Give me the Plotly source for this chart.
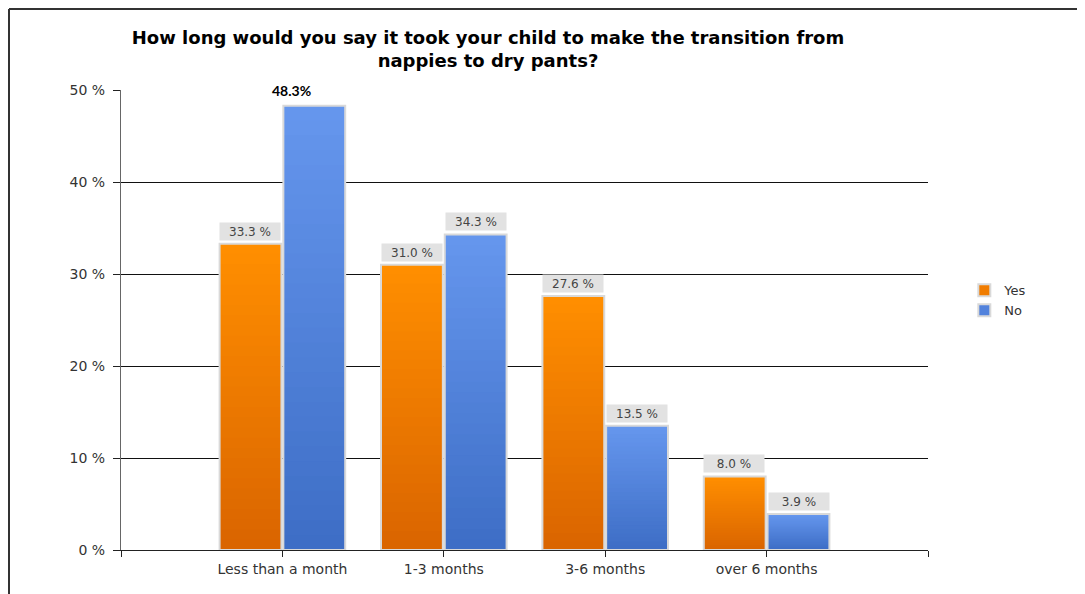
import plotly.graph_objects as go

categories = ["Less than a month", "1-3 months", "3-6 months", "over 6 months"]
yes_values = [33.3, 31.0, 27.6, 8.0]
no_values = [48.3, 34.3, 13.5, 3.9]
series_names = ["Yes", "No"]
y_ticks = [0, 10, 20, 30, 40, 50]
y_tick_labels = ["0 %", "10 %", "20 %", "30 %", "40 %", "50 %"]
title_text = "How long would you say it took your child to make the transition from<br>nappies to dry pants?"
highlight = ("No", 0)  # label drawn bold without a box

# styles
top_colors = {"Yes": (255, 142, 0), "No": (101, 150, 237)}
bot_colors = {"Yes": (218, 101, 0), "No": (62, 110, 198)}
mid_colors = {"Yes": "#F07C00", "No": "#5282DC"}
border_col = "#D9D9D9"
N_SEG = 30
BAR_OFFSET = 0.2  # category units, centre of each bar relative to the category

W, H = 1077, 586
L, R, T, B = 113, 157, 82, 44
PW, PH = W - L - R, H - T - B

xpos = list(range(len(categories)))
fig = go.Figure()

def mix(c1, c2, t):
    return "rgb(%d,%d,%d)" % tuple(round(a + (b - a) * t) for a, b in zip(c1, c2))

for name, vals in zip(series_names, [yes_values, no_values]):
    for k in range(N_SEG):
        t = k / (N_SEG - 1)
        bases = [v * k / N_SEG for v in vals]
        heights = [min(v * 2.0 / N_SEG, v - b) for v, b in zip(vals, bases)]
        fig.add_trace(go.Bar(
            x=xpos, y=heights, base=bases,
            offsetgroup=name, marker=dict(color=mix(bot_colors[name], top_colors[name], t), line=dict(width=0)),
            showlegend=False, hoverinfo="skip"))
    fig.add_trace(go.Bar(
        x=xpos, y=vals, offsetgroup=name, name=name,
        marker=dict(color="rgba(0,0,0,0)", line=dict(color=border_col, width=2)),
        showlegend=False))
    fig.add_trace(go.Bar(
        x=xpos, y=[None] * len(vals), offsetgroup=name, name=name,
        marker=dict(color=mid_colors[name], line=dict(color=border_col, width=2)),
        showlegend=True))

annotations = []
for si, (name, vals) in enumerate(zip(series_names, [yes_values, no_values])):
    off = -BAR_OFFSET if si == 0 else BAR_OFFSET
    for i, v in enumerate(vals):
        if (name, i) == highlight:
            annotations.append(dict(
                x=i + off, y=v, xref="x", yref="y", text="<b>%.1f%%</b>" % v, showarrow=False,
                yanchor="middle", yshift=15, xshift=-23,
                font=dict(family="Lato", size=14, color="#000")))
        else:
            annotations.append(dict(
                x=i + off, y=v, xref="x", yref="y", text="%.1f %%" % v, showarrow=False,
                yanchor="bottom", yshift=3, width=58, height=15, bgcolor="#E2E2E2",
                font=dict(family="DejaVu Sans", size=12, color="#444")))

fx = (1 - L) / PW
fy = 1 + (T - 1) / PH
fig.update_layout(
    width=W, height=H,
    margin=dict(l=L, r=R, t=T, b=B),
    paper_bgcolor="white", plot_bgcolor="white",
    barmode="group", bargap=0.21, bargroupgap=0.03,
    title=dict(text="<b>" + title_text + "</b>", x=480 / W, xanchor="center",
               y=1 - 36 / H, yanchor="top", yref="container",
               font=dict(family="DejaVu Sans", size=18, color="#000")),
    legend=dict(x=1.045, y=0.597, xanchor="left", yanchor="top", bgcolor="rgba(0,0,0,0)",
                font=dict(family="DejaVu Sans", size=13, color="#333"),
                tracegroupgap=0),
    annotations=annotations,
    showlegend=True,
    font=dict(family="DejaVu Sans", size=13, color="#333"),
    shapes=[
        dict(type="line", xref="paper", yref="paper", x0=fx, x1=1.3,
             y0=fy, y1=fy, line=dict(color="#333", width=2)),
        dict(type="line", xref="paper", yref="paper", x0=fx, x1=fx,
             y0=-0.2, y1=fy, line=dict(color="#333", width=2)),
    ],
)
fig.update_xaxes(
    range=[-1, len(categories)], tickvals=[-1] + xpos + [len(categories)],
    ticktext=[""] + categories + [""], ticks="outside", ticklen=6, tickcolor="#222",
    showline=True, linecolor="#222", linewidth=1, showgrid=False, zeroline=False,
    tickfont=dict(family="DejaVu Sans", size=14, color="#333"))
fig.update_yaxes(
    range=[0, 50], tickvals=y_ticks, ticktext=y_tick_labels, ticks="outside", ticklen=7, tickcolor="#222",
    ticklabelstandoff=5,
    showline=True, linecolor="#666", linewidth=1, showgrid=True, gridcolor="#111", gridwidth=1,
    zeroline=False, tickfont=dict(family="DejaVu Sans", size=14, color="#333"))

fig.write_html("out.html")
